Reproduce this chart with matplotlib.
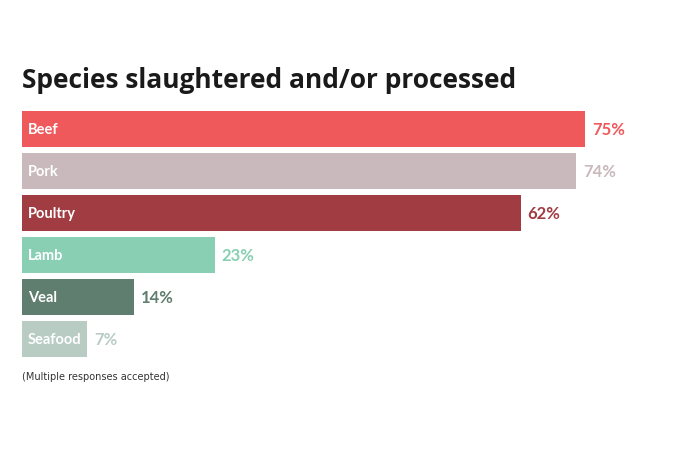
import matplotlib
matplotlib.use('Agg')
import matplotlib.pyplot as plt
import numpy as np

# data
species = ['Beef', 'Pork', 'Poultry', 'Lamb', 'Veal', 'Seafood']
pct = [75, 74, 62, 23, 14, 7]
# drawn bar lengths (the original is not exactly to scale)
bar_len = [75.1, 73.9, 66.5, 25.7, 14.9, 8.7]
colors = ['#F0595C', '#C9B8BC', '#A03C42', '#88CFB4', '#5F7E70', '#B8CCC4']

plt.rcParams['font.family'] = ['Lato', 'DejaVu Sans']

fig = plt.figure(figsize=(6.9, 4.6), dpi=100)
ax = fig.add_axes([22 / 690, 102 / 460, 660 / 690, 246 / 460])

y = np.arange(len(species))
h = 0.857
ax.barh(y, bar_len, height=h, color=colors)
for i in range(len(species)):
    ax.text(0.8, y[i], species[i], color='white', fontsize=10.5,
            fontweight='bold', va='center', ha='left')
    ax.text(bar_len[i] + 0.9, y[i], f'{pct[i]}%', color=colors[i],
            fontsize=12, fontweight='bold', va='center', ha='left')

ax.set_xlim(0, 88)
ax.set_ylim(len(species) - 1 + h / 2, -h / 2)
ax.axis('off')

fig.text(22 / 690, 1 - 80 / 460, 'Species slaughtered and/or processed',
         fontsize=19, fontweight='bold', color='#1a1a1a', va='center', ha='left',
         family=['Open Sans', 'DejaVu Sans'])
fig.text(22 / 690, 1 - 377 / 460, '(Multiple responses accepted)',
         fontsize=7, color='#333333', va='center', ha='left',
         family=['Liberation Sans Narrow', 'DejaVu Sans'])

fig.savefig('out.png', dpi=100)
